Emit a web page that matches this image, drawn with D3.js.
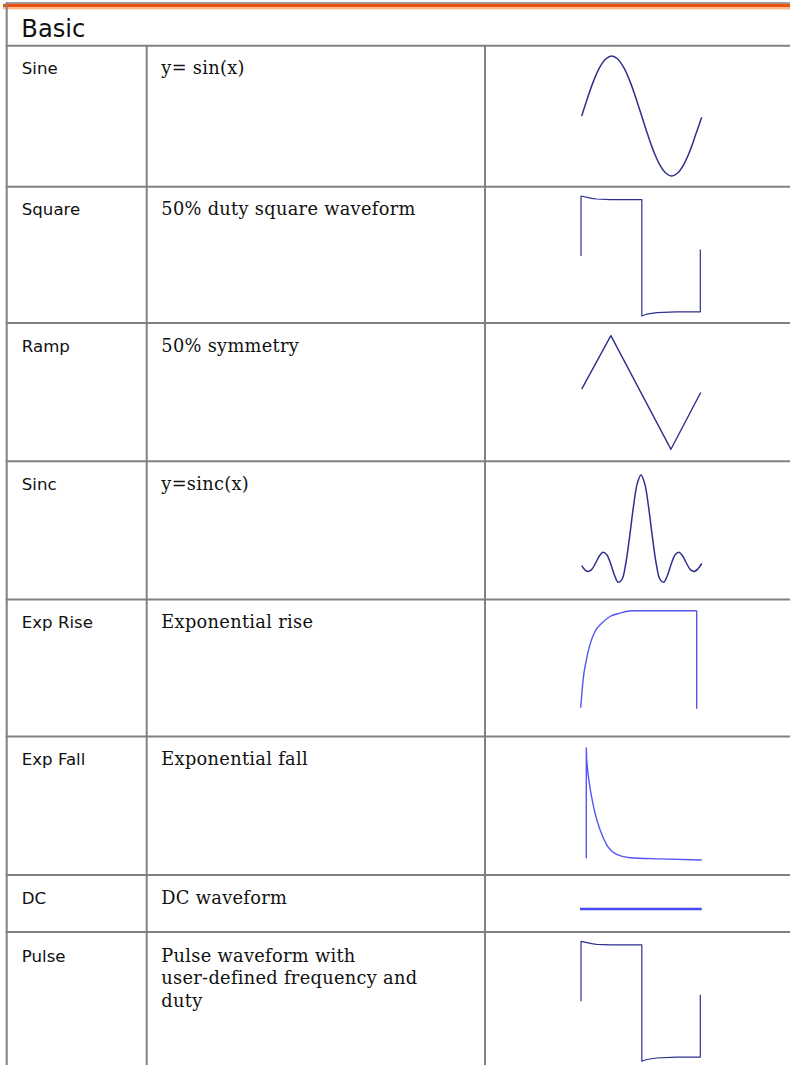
<!DOCTYPE html>
<html>
<head>
<meta charset="utf-8">
<script src="https://cdn.jsdelivr.net/npm/d3@7"></script>
<style>
html, body { margin: 0; padding: 0; background: #ffffff; }
svg { display: block; }
</style>
</head>
<body>
<script>
// ---------------- data ----------------
const sectionTitle = "Basic";
const rowNames = ["Sine", "Square", "Ramp", "Sinc", "Exp Rise", "Exp Fall", "DC", "Pulse"];
const rowDescriptions = [
  ["y= sin(x)"],
  ["50% duty square waveform"],
  ["50% symmetry"],
  ["y=sinc(x)"],
  ["Exponential rise"],
  ["Exponential fall"],
  ["DC waveform"],
  ["Pulse waveform with", "user-defined frequency and", "duty"]
];

// waveform readings (time, amplitude)
const sineT = [0, 0.05, 0.1, 0.15, 0.2, 0.25, 0.3, 0.35, 0.4, 0.45, 0.5, 0.55, 0.6, 0.65, 0.7, 0.75, 0.8, 0.85, 0.9, 0.95, 1];
const sineV = [0, 0.31, 0.59, 0.81, 0.95, 1, 0.95, 0.81, 0.59, 0.31, 0, -0.31, -0.59, -0.81, -0.95, -1, -0.95, -0.81, -0.59, -0.31, -0.02];

const squareT = [0, 0, 0.09, 0.13, 0.245, 0.51, 0.51, 0.55, 0.634, 0.80, 1, 1];
const squareV = [0, 1, 0.96, 0.95, 0.94, 0.94, -1, -0.97, -0.945, -0.93, -0.93, 0.11];

const rampT = [0, 0.245, 0.75, 1];
const rampV = [0.06, 1, -1, 0];

const sincX = [-3.9, -3.75, -3.5, -3.25, -3, -2.75, -2.5, -2.25, -2, -1.75, -1.5, -1.25, -1, -0.75, -0.5, -0.25, 0,
               0.25, 0.5, 0.75, 1, 1.25, 1.5, 1.75, 2, 2.25, 2.5, 2.75, 3, 3.25, 3.5, 3.75, 4];
const sincV = [-0.025, -0.06, -0.091, -0.069, 0, 0.082, 0.127, 0.1, 0, -0.129, -0.212, -0.18, 0, 0.3, 0.637, 0.9, 1,
               0.9, 0.637, 0.3, 0, -0.18, -0.212, -0.129, 0, 0.1, 0.127, 0.082, 0, -0.069, -0.091, -0.06, 0];

const expRiseT = [0, 0.009, 0.022, 0.045, 0.08, 0.123, 0.181, 0.253, 0.339, 0.44, 1, 1];
const expRiseV = [0, 0.13, 0.30, 0.47, 0.65, 0.785, 0.87, 0.94, 0.975, 1, 1, -0.01];

const expFallT = [0, 0, 0.003, 0.012, 0.03, 0.047, 0.075, 0.119, 0.177, 0.263, 0.38, 0.64, 1];
const expFallV = [0.015, 1, 0.9, 0.8, 0.66, 0.56, 0.42, 0.27, 0.135, 0.05, 0.02, 0.01, 0];

const dcT = [0, 1];
const dcV = [0, 0];

const pulseT = [0, 0, 0.09, 0.13, 0.245, 0.51, 0.51, 0.55, 0.634, 0.80, 1, 1];
const pulseV = [0, 1, 0.96, 0.95, 0.94, 0.94, -1, -0.97, -0.945, -0.93, -0.93, 0.11];

// ---------------- layout ----------------
const W = 790, H = 1065;
const lineColor = "#808080";
const leftX = 6.7, col2X = 146.7, col3X = 485;
const headerBottom = 45.7;
const rowTops = [45.7, 186.7, 323, 461.3, 599.5, 736.5, 875, 932];
const textOffsets = [28.5, 28.5, 28.5, 28.5, 28.5, 28.5, 28.5, 29.5];
const navy = "#2f2f8f";
const bright = "#5555f5";

const svg = d3.select("body").append("svg")
  .attr("width", W).attr("height", H)
  .attr("viewBox", `0 0 ${W} ${H}`);

// orange top rule
svg.append("rect").attr("x", 3).attr("y", 3.8).attr("width", W - 3).attr("height", 3.6).attr("fill", "#ea520e");
svg.append("rect").attr("x", 3).attr("y", 7.4).attr("width", W - 3).attr("height", 2).attr("fill", "#f8b888");

// grid lines
const grid = svg.append("g").attr("stroke", lineColor).attr("stroke-width", 2).attr("fill", "none");
grid.append("line").attr("x1", leftX).attr("x2", W).attr("y1", 3).attr("y2", 3).attr("stroke-width", 1.5);
grid.append("line").attr("x1", leftX).attr("x2", leftX).attr("y1", 2.2).attr("y2", H);
grid.append("line").attr("x1", col2X).attr("x2", col2X).attr("y1", headerBottom).attr("y2", H);
grid.append("line").attr("x1", col3X).attr("x2", col3X).attr("y1", headerBottom).attr("y2", H);
grid.selectAll("line.row").data(rowTops).join("line").attr("class", "row")
  .attr("x1", leftX - 1).attr("x2", W).attr("y1", d => d).attr("y2", d => d);

// header
svg.append("text").attr("x", 21.3).attr("y", 36.7)
  .attr("font-family", "DejaVu Sans").attr("font-size", 24.2).attr("fill", "#111")
  .text(sectionTitle);

// row labels
svg.append("g").selectAll("text").data(rowNames).join("text")
  .attr("x", 21.8).attr("y", (d, i) => rowTops[i] + textOffsets[i])
  .attr("font-family", "DejaVu Sans").attr("font-size", 16.6).attr("fill", "#111")
  .text(d => d);

// descriptions
const descG = svg.append("g").attr("font-family", "DejaVu Serif").attr("font-size", 17.8)
  .attr("letter-spacing", 0.3).attr("fill", "#111");
rowDescriptions.forEach((lines, i) => {
  const t = descG.append("text").attr("x", 161.3).attr("y", rowTops[i] + textOffsets[i]);
  lines.forEach((ln, j) => {
    t.append("tspan").attr("x", 161.3).attr("dy", j === 0 ? 0 : 22.5).text(ln);
  });
});

// ---------------- waveforms ----------------
const wave = svg.append("g").attr("fill", "none").attr("stroke-linejoin", "round").attr("stroke-linecap", "butt");

function zip(a, b) { return a.map((v, i) => [v, b[i]]); }

function drawPath(pts, x, y, curve, color, width) {
  const gen = d3.line().x(d => x(d[0])).y(d => y(d[1])).curve(curve);
  wave.append("path").attr("d", gen(pts)).attr("stroke", color).attr("stroke-width", width);
}

// Sine
{
  const r = rowTops[0];
  const x = d3.scaleLinear().domain([0, 1]).range([581.7, 701.7]);
  const y = d3.scaleLinear().domain([-1, 1]).range([r + 130.3, r + 10.3]);
  drawPath(zip(sineT, sineV), x, y, d3.curveCatmullRom.alpha(0.5), navy, 1.5);
}
// Square
{
  const r = rowTops[1];
  const x = d3.scaleLinear().domain([0, 1]).range([581, 700.3]);
  const y = d3.scaleLinear().domain([-1, 1]).range([r + 129.3, r + 9.3]);
  drawPath(zip(squareT, squareV), x, y, d3.curveLinear, navy, 1.2);
}
// Ramp
{
  const r = rowTops[2];
  const x = d3.scaleLinear().domain([0, 1]).range([581.7, 700.7]);
  const y = d3.scaleLinear().domain([-1, 1]).range([r + 126.3, r + 12.7]);
  drawPath(zip(rampT, rampV), x, y, d3.curveLinear, navy, 1.4);
}
// Sinc
{
  const r = rowTops[3];
  const x = d3.scaleLinear().domain([-3.9, 4]).range([581.7, 701.8]);
  const y = d3.scaleLinear().domain([0, 1]).range([r + 102.2, r + 13.7]);
  drawPath(zip(sincX, sincV), x, y, d3.curveCatmullRom.alpha(0.5), navy, 1.5);
}
// Exp Rise
{
  const r = rowTops[4];
  const x = d3.scaleLinear().domain([0, 1]).range([580.7, 696.7]);
  const y = d3.scaleLinear().domain([0, 1]).range([r + 108.2, r + 11.2]);
  const pts = zip(expRiseT, expRiseV);
  drawPath(pts.slice(0, 11), x, y, d3.curveMonotoneX, bright, 1.4);
  drawPath(pts.slice(10), x, y, d3.curveLinear, bright, 1.4);
}
// Exp Fall
{
  const r = rowTops[5];
  const x = d3.scaleLinear().domain([0, 1]).range([586.3, 701.7]);
  const y = d3.scaleLinear().domain([0, 1]).range([r + 123.5, r + 11.5]);
  const pts = zip(expFallT, expFallV);
  drawPath(pts.slice(0, 3), x, y, d3.curveLinear, bright, 1.4);
  drawPath(pts.slice(2), x, y, d3.curveMonotoneX, bright, 1.4);
}
// DC
{
  const r = rowTops[6];
  const x = d3.scaleLinear().domain([0, 1]).range([580, 701.7]);
  const y = d3.scaleLinear().domain([-1, 1]).range([r + 64, r + 4]);
  drawPath(zip(dcT, dcV), x, y, d3.curveLinear, "#4a4af2", 2.6);
}
// Pulse
{
  const r = rowTops[7];
  const x = d3.scaleLinear().domain([0, 1]).range([581, 700.3]);
  const y = d3.scaleLinear().domain([-1, 1]).range([r + 129.3, r + 9.3]);
  drawPath(zip(pulseT, pulseV), x, y, d3.curveLinear, navy, 1.2);
}
</script>
</body>
</html>
